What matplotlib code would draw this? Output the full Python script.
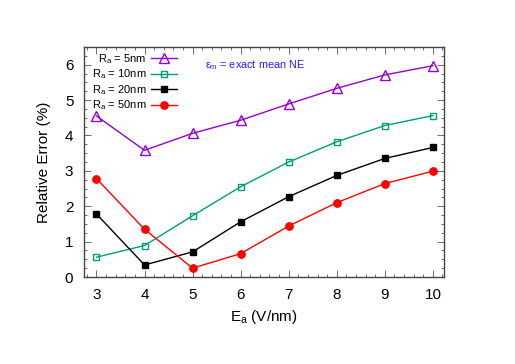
import matplotlib
matplotlib.use("Agg")
import matplotlib.pyplot as plt
from matplotlib.ticker import MultipleLocator

plt.rcParams['font.family'] = ['Liberation Sans', 'DejaVu Sans']
plt.rcParams['mathtext.fontset'] = 'custom'
plt.rcParams['mathtext.rm'] = 'Liberation Sans'
plt.rcParams['mathtext.it'] = 'Liberation Sans'

E_a = [3, 4, 5, 6, 7, 8, 9, 10]
err_5nm = [4.55, 3.58, 4.06, 4.43, 4.89, 5.33, 5.71, 5.97]
err_10nm = [0.56, 0.89, 1.73, 2.55, 3.25, 3.82, 4.28, 4.56]
err_20nm = [1.78, 0.34, 0.71, 1.56, 2.27, 2.87, 3.35, 3.66]
err_50nm = [2.78, 1.35, 0.25, 0.66, 1.44, 2.10, 2.64, 2.99]
labels = ["R$_\\mathrm{a}$ = 5nm", "R$_\\mathrm{a}$ = 10nm", "R$_\\mathrm{a}$ = 20nm", "R$_\\mathrm{a}$ = 50nm"]

fig = plt.figure(figsize=(5.15, 3.64), dpi=100)
ax = fig.add_axes([0.164, 0.239, 0.698, 0.632])

ax.plot(E_a, err_5nm, color='#9400D3', lw=1, marker='^', ms=6.5, mfc='none', mew=1, label=labels[0])
ax.plot(E_a, err_10nm, color='#009E73', lw=1, marker='s', ms=4.5, mfc='none', mew=1, label=labels[1])
ax.plot(E_a, err_20nm, color='black', lw=1, marker='s', ms=4.3, label=labels[2])
ax.plot(E_a, err_50nm, color='#FF0000', lw=1, marker='o', ms=5.3, label=labels[3])

ax.set_xlim(2.75, 10.23)
ax.set_ylim(0, 6.5)
ax.xaxis.set_major_locator(MultipleLocator(1))
ax.xaxis.set_minor_locator(MultipleLocator(0.2))
ax.yaxis.set_major_locator(MultipleLocator(1))
ax.yaxis.set_minor_locator(MultipleLocator(0.25))
ax.tick_params(which='both', direction='in', top=True, right=True, width=0.6, color='#555555')
ax.tick_params(which='major', length=5, labelsize=11, pad=8)
ax.tick_params(which='minor', length=2.5)
for s in ax.spines.values():
    s.set_linewidth(1.0)
    s.set_color('#444444')

ax.set_xlabel("E$_\\mathrm{a}$ (V/nm)", fontsize=11, labelpad=4)
ax.set_ylabel("Relative Error (%)", fontsize=11, labelpad=10)

ax.legend(loc='upper left', markerfirst=False, frameon=False, fontsize=8,
          handlelength=2.4, labelspacing=0.15, borderaxespad=0.0, handletextpad=0.4,
          borderpad=0.0, bbox_to_anchor=(0.02, 0.978))
ax.text(0.335, 0.922, "ε$_\\mathrm{m}$ = exact mean NE", transform=ax.transAxes,
        color='#2020FF', fontsize=7.8, va='center')

fig.savefig("out.png", dpi=100)
